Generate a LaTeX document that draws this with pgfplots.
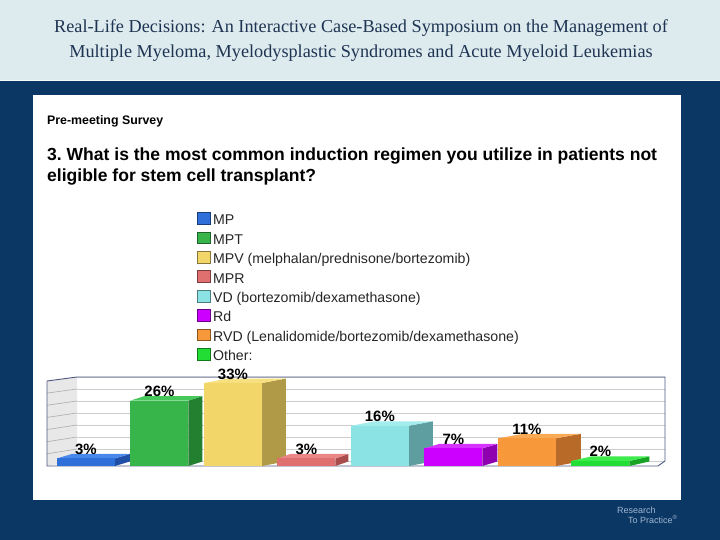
\documentclass[border=0pt]{standalone}
\usepackage{pgfplots}
\pgfplotsset{compat=1.18}
\usepackage{pgfplotstable}
\usepackage{fontspec}
\setmainfont{Liberation Sans}
\newfontfamily\seriffont{Liberation Serif}

\definecolor{navy}{RGB}{10,55,100}
\definecolor{headerc}{RGB}{221,234,238}
\definecolor{titlec}{RGB}{30,52,82}
\definecolor{framec}{RGB}{80,88,130}
\definecolor{gridc}{RGB}{205,205,205}
\definecolor{wallc}{RGB}{232,232,232}
\definecolor{logoc}{RGB}{160,182,210}

\definecolor{bar0}{RGB}{46,111,217}\definecolor{bar0s}{RGB}{30,78,165}\definecolor{bar0t}{RGB}{72,136,234}
\definecolor{bar1}{RGB}{55,180,74}\definecolor{bar1s}{RGB}{34,128,48}\definecolor{bar1t}{RGB}{70,200,90}
\definecolor{bar2}{RGB}{242,214,106}\definecolor{bar2s}{RGB}{176,154,72}\definecolor{bar2t}{RGB}{246,224,128}
\definecolor{bar3}{RGB}{224,112,112}\definecolor{bar3s}{RGB}{168,76,76}\definecolor{bar3t}{RGB}{234,134,134}
\definecolor{bar4}{RGB}{140,227,227}\definecolor{bar4s}{RGB}{94,158,160}\definecolor{bar4t}{RGB}{162,236,236}
\definecolor{bar5}{RGB}{204,0,255}\definecolor{bar5s}{RGB}{142,0,176}\definecolor{bar5t}{RGB}{214,51,255}
\definecolor{bar6}{RGB}{247,152,58}\definecolor{bar6s}{RGB}{184,106,40}\definecolor{bar6t}{RGB}{249,170,85}
\definecolor{bar7}{RGB}{34,221,51}\definecolor{bar7s}{RGB}{23,163,36}\definecolor{bar7t}{RGB}{61,235,77}

% idx = category position, v = percent, d = depth of 3-D side face (px)
\pgfplotstableread{
idx v d
0 3 15
1 26 14
2 33 24
3 3 13
4 16 24
5 7 15
6 11 25
7 2 20
}\datatable

\def\pxu{0.013605}  % axis units per px (x)
\def\hw{0.3946}     % half bar width (axis units)
\def\dy{1.8}        % rise of top face (percent units)

\begin{document}
\begin{tikzpicture}
\begin{scope}[x=1bp,y=-1bp]
\path[use as bounding box] (0,0) rectangle (720,540);
\fill[navy] (0,0) rectangle (720,540);
\fill[headerc] (0,0) rectangle (720,81);
\draw[white!80!headerc, line width=1bp] (0,81) -- (720,81);
\fill[white] (33,95) rectangle (681,500);
\node[anchor=base, text=titlec, font=\seriffont\fontsize{18.3}{20}\selectfont, inner sep=0pt] at (361,33)
  {Real-Life Decisions: An Interactive Case-Based Symposium on the Management of};
\node[anchor=base, text=titlec, font=\seriffont\fontsize{18.3}{20}\selectfont, inner sep=0pt] at (361,58)
  {Multiple Myeloma, Myelodysplastic Syndromes and Acute Myeloid Leukemias};
\node[anchor=base west, inner sep=0pt, font=\bfseries\fontsize{12.4}{14}\selectfont] at (47,125) {Pre-meeting Survey};
\node[anchor=base west, inner sep=0pt, font=\bfseries\fontsize{17.6}{20}\selectfont] at (47,161)
  {3.\ What is the most common induction regimen you utilize in patients not};
\node[anchor=base west, inner sep=0pt, font=\bfseries\fontsize{17.6}{20}\selectfont] at (47,182)
  {eligible for stem cell transplant?};
\node[anchor=base west, inner sep=0pt, text=logoc, font=\fontsize{9}{10}\selectfont] at (617,513) {Research};
\node[anchor=base west, inner sep=0pt, text=logoc, font=\fontsize{9}{10}\selectfont] at (628,523.5) {To Practice\textsuperscript{®}};
\end{scope}

% back wall with gridlines
\begin{axis}[
  at={(77bp,-461bp)}, anchor=south west,
  width=588bp, height=84bp, scale only axis,
  xmin=0, xmax=1, ymin=0, ymax=35,
  xtick=\empty, ytick={0,5,...,35}, yticklabels={},
  major tick length=0pt,
  ymajorgrids, grid style={gridc, line width=0.8bp},
  axis line style={draw=none},
  axis background/.style={fill=white},
]
\end{axis}

\begin{scope}[x=1bp,y=-1bp]
% left side wall
\fill[wallc] (47,466) -- (77,461) -- (77,377) -- (47,381) -- cycle;
\foreach \k in {1,...,6}{
  \draw[black!30, line width=0.7bp] (47,{466-12.15*\k}) -- (77,{461-12*\k});
}
\draw[framec, line width=0.9bp] (47,381) -- (77,377) -- (665,377) -- (665,461);
\draw[framec, line width=0.9bp] (47,381) -- (47,466) -- (658,466) -- (665,461);
\end{scope}

% bars
\begin{axis}[
  at={(47bp,-466bp)}, anchor=south west,
  width=593bp, height=88bp, scale only axis,
  xmin=-0.53, xmax=7.54, ymin=0, ymax=35,
  axis x line=none, axis y line=none,
  clip=false,
  /pgf/number format/assume math mode=true,
  legend style={at={(axis description cs:0.2530,2.884)}, anchor=north west,
    draw=none, fill=none, inner sep=0pt, outer sep=0pt,
    row sep=0pt, column sep=3bp,
    font=\fontsize{14.2}{16}\selectfont, text=black!85,
    nodes={inner sep=0pt, text height=10.5bp, text depth=6.7bp}},
  legend cell align=left,
  legend image code/.code={\draw[#1, line width=0.6bp] (0bp,-1.2bp) rectangle (12.5bp,10.5bp);},
]
\pgfplotsinvokeforeach{0,...,7}{%
  \pgfplotstablegetelem{#1}{v}\of\datatable
  \pgfmathsetmacro\vv{\pgfplotsretval}%
  \pgfplotstablegetelem{#1}{d}\of\datatable
  \pgfmathsetmacro\dd{\pgfplotsretval*\pxu}%
  \pgfmathsetmacro\xl{#1-\hw}%
  \pgfmathsetmacro\xr{#1+\hw}%
  \pgfmathsetmacro\xlb{#1-\hw+\dd}%
  \pgfmathsetmacro\xrb{#1+\hw+\dd}%
  \pgfmathsetmacro\vb{\vv+\dy}%
  \edef\temp{%
    \noexpand\addplot[draw=none, fill=bar#1s, forget plot, mark=none] coordinates {(\xr,0) (\xrb,\dy) (\xrb,\vb) (\xr,\vv)};
    \noexpand\addplot[draw=none, fill=bar#1t, forget plot, mark=none] coordinates {(\xl,\vv) (\xr,\vv) (\xrb,\vb) (\xlb,\vb)};
    \noexpand\addplot[draw=none, fill=bar#1, forget plot, mark=none] coordinates {(\xl,0) (\xr,0) (\xr,\vv) (\xl,\vv)};
  }\temp
}
\addplot[draw=none, mark=none, forget plot, point meta=y,
  nodes near coords={\pgfmathprintnumber{\pgfplotspointmeta}\%},
  nodes near coords style={anchor=base, inner sep=0pt, yshift=4bp,
    font=\bfseries\fontsize{15}{17}\selectfont, text=black}]
  table[x=idx, y=v] {\datatable};

\addlegendimage{fill=bar0, draw=bar0!55!black}\addlegendentry{MP}
\addlegendimage{fill=bar1, draw=bar1!55!black}\addlegendentry{MPT}
\addlegendimage{fill=bar2, draw=bar2!55!black}\addlegendentry{MPV (melphalan/prednisone/bortezomib)}
\addlegendimage{fill=bar3, draw=bar3!55!black}\addlegendentry{MPR}
\addlegendimage{fill=bar4, draw=bar4!55!black}\addlegendentry{VD (bortezomib/dexamethasone)}
\addlegendimage{fill=bar5, draw=bar5!55!black}\addlegendentry{Rd}
\addlegendimage{fill=bar6, draw=bar6!55!black}\addlegendentry{RVD (Lenalidomide/bortezomib/dexamethasone)}
\addlegendimage{fill=bar7, draw=bar7!55!black}\addlegendentry{Other:}
\end{axis}
\end{tikzpicture}
\end{document}
